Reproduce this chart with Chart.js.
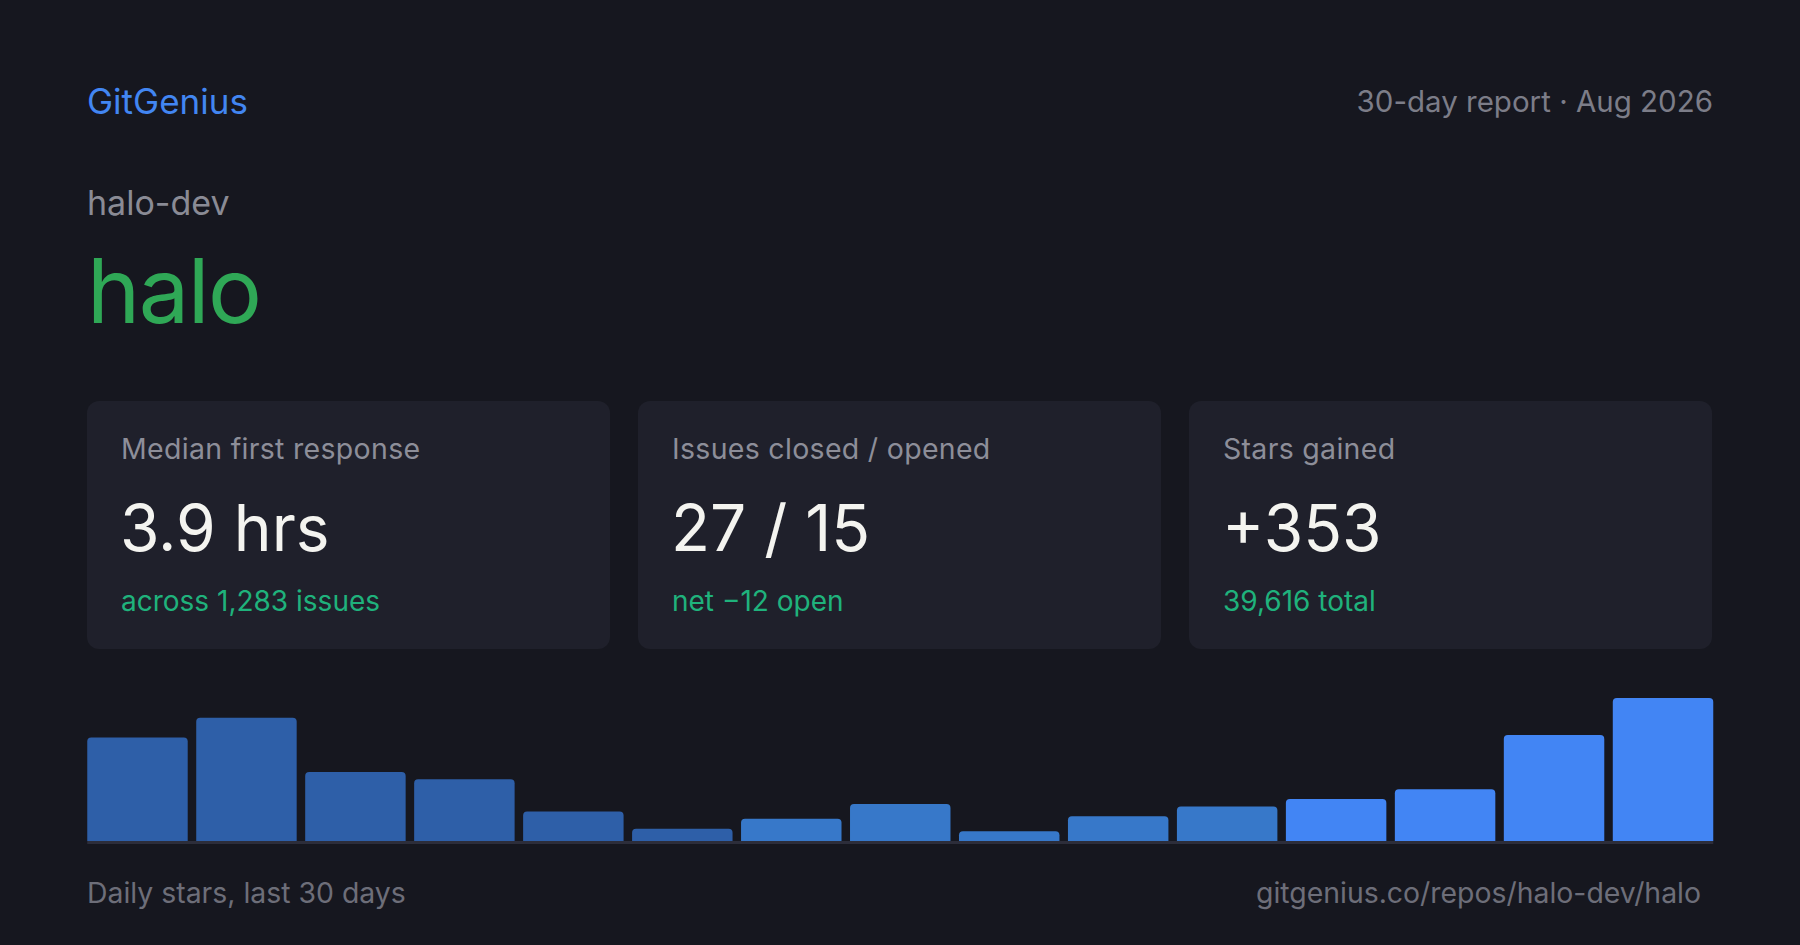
<!DOCTYPE html>
<html>
<head>
<meta charset="utf-8">
<script src="https://cdn.jsdelivr.net/npm/chart.js@4"></script>
<style>
  html, body { margin: 0; padding: 0; }
  body { width: 1800px; height: 945px; background: #16171f; position: relative; overflow: hidden; font-family: Inter, "Noto Sans", sans-serif; }
  .abs { position: absolute; line-height: 1; white-space: nowrap; }
  #brand { left: 87px; top: 83.5px; font-size: 35px; color: #4286f2; }
  #report { right: 87px; top: 86.5px; font-size: 29.5px; color: #7c7d88; }
  #owner { left: 87px; top: 186px; font-size: 34px; color: #8a8b95; }
  #repo { left: 87px; top: 246px; font-size: 90px; color: #2fa856; letter-spacing: -1.5px; }
  .card { position: absolute; top: 401px; width: 523px; height: 248px; background: #1f202b; border-radius: 12px; }
  .card .lbl { position: absolute; left: 34px; top: 34px; font-size: 28.5px; letter-spacing: 0.3px; color: #8d8e99; line-height: 1; white-space: nowrap; }
  .card .val { position: absolute; left: 33px; top: 95px; font-size: 64px; color: #f4f4f0; line-height: 1; white-space: nowrap; }
  .card .sub { position: absolute; left: 34px; top: 185.5px; font-size: 28px; color: #1fb27c; line-height: 1; white-space: nowrap; }
  #chartBox { position: absolute; left: 82.8px; top: 698px; width: 1634.5px; height: 146px; }
  #foot1 { left: 87px; top: 879px; font-size: 28.4px; color: #6d6e79; }
  #foot2 { right: 99px; top: 879px; font-size: 28.4px; color: #6d6e79; }
</style>
</head>
<body>
<div class="abs" id="brand"></div>
<div class="abs" id="report"></div>
<div class="abs" id="owner"></div>
<div class="abs" id="repo"></div>
<div id="cards"></div>
<div id="chartBox"><canvas id="c"></canvas></div>
<div class="abs" id="foot1"></div>
<div class="abs" id="foot2"></div>
<script>
// ---- data ----
const brandName = "GitGenius";
const reportLabel = "30-day report · Aug 2026";
const ownerName = "halo-dev";
const repoName = "halo";
const cardLabels = ["Median first response", "Issues closed / opened", "Stars gained"];
const cardValues = ["3.9 hrs", "27 / 15", "+353"];
const cardSubs = ["across 1,283 issues", "net −12 open", "39,616 total"];
const periods = ["1","2","3","4","5","6","7","8","9","10","11","12","13","14","15"];
const dailyStars = [42, 50, 28, 25, 12, 5, 9, 15, 4, 10, 14, 17, 21, 43, 58];
const chartCaption = "Daily stars, last 30 days";
const repoUrl = "gitgenius.co/repos/halo-dev/halo";

// ---- text ----
document.getElementById('brand').textContent = brandName;
document.getElementById('report').textContent = reportLabel;
document.getElementById('owner').textContent = ownerName;
document.getElementById('repo').textContent = repoName;
document.getElementById('foot1').textContent = chartCaption;
document.getElementById('foot2').textContent = repoUrl;

const cardsEl = document.getElementById('cards');
cardLabels.forEach((lbl, i) => {
  const card = document.createElement('div');
  card.className = 'card';
  card.style.left = (87 + i * 551) + 'px';
  const a = document.createElement('div'); a.className = 'lbl'; a.textContent = lbl;
  const b = document.createElement('div'); b.className = 'val'; b.textContent = cardValues[i];
  const c = document.createElement('div'); c.className = 'sub'; c.textContent = cardSubs[i];
  card.appendChild(a); card.appendChild(b); card.appendChild(c);
  cardsEl.appendChild(card);
});

// ---- chart ----
function barColor(ctx) {
  const i = ctx.dataIndex;
  if (i < 6) return '#2e5fa8';
  if (i < 11) return '#3778c9';
  return '#4285f4';
}
const baseline = {
  id: 'baseline',
  afterDatasetsDraw(chart) {
    const { ctx, chartArea } = chart;
    const bars = chart.getDatasetMeta(0).data;
    const first = bars[0], last = bars[bars.length - 1];
    const x0 = first.x - first.width / 2;
    const x1 = last.x + last.width / 2;
    ctx.save();
    ctx.strokeStyle = '#2c2d3a';
    ctx.lineWidth = 3;
    ctx.beginPath();
    ctx.moveTo(x0, chartArea.bottom + 1.5);
    ctx.lineTo(x1, chartArea.bottom + 1.5);
    ctx.stroke();
    ctx.restore();
  }
};
new Chart(document.getElementById('c'), {
  type: 'bar',
  data: {
    labels: periods,
    datasets: [{
      data: dailyStars,
      backgroundColor: barColor,
      borderRadius: { topLeft: 4, topRight: 4, bottomLeft: 0, bottomRight: 0 },
      borderSkipped: 'start',
      barPercentage: 0.922,
      categoryPercentage: 1
    }]
  },
  options: {
    responsive: true,
    maintainAspectRatio: false,
    animation: false,
    layout: { padding: { left: 0, right: 0, top: 0, bottom: 3 } },
    plugins: { legend: { display: false }, tooltip: { enabled: false } },
    scales: {
      x: { display: false },
      y: { display: false, min: 0, max: Math.max(...dailyStars) }
    }
  },
  plugins: [baseline]
});
</script>
</body>
</html>
